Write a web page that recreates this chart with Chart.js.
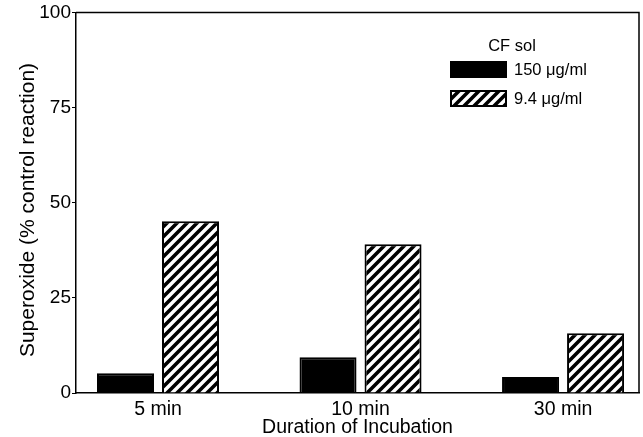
<!DOCTYPE html>
<html>
<head>
<meta charset="utf-8">
<script src="https://cdn.jsdelivr.net/npm/chart.js@4.4.1/dist/chart.umd.min.js"></script>
<style>
html,body{margin:0;padding:0;background:#fff;}
#wrap{width:643px;height:437px;position:relative;}
</style>
</head>
<body>
<div id="wrap"><canvas id="c"></canvas></div>
<script>
const categories = ["5 min", "10 min", "30 min"];
const categoryPositions = [1, 2, 3];
const seriesLabels = ["150 μg/ml", "9.4 μg/ml"];
const values150 = [5.2, 9.4, 4.2];
const values9_4 = [45.1, 39.1, 15.7];
const yTicks = [0, 25, 50, 75, 100];
const legendTitle = "CF sol";
const xTitle = "Duration of Incubation";
const yTitle = "Superoxide (% control reaction)";

const FONT = "'Liberation Sans', Arial, Helvetica, sans-serif";

function makeHatch() {
  const s = 10;
  const p = document.createElement('canvas');
  p.width = s; p.height = s;
  const g = p.getContext('2d');
  g.fillStyle = '#fff';
  g.fillRect(0, 0, s, s);
  g.strokeStyle = '#000';
  g.lineWidth = 3.6;
  g.lineCap = 'square';
  g.beginPath();
  g.moveTo(0, s); g.lineTo(s, 0);
  g.moveTo(-s/2, s/2); g.lineTo(s/2, -s/2);
  g.moveTo(s/2, s*1.5); g.lineTo(s*1.5, s/2);
  g.stroke();
  return g.createPattern(p, 'repeat');
}
const hatch = makeHatch();

const toPoints = vals => vals.map((v, i) => ({x: categoryPositions[i], y: v}));

const decorations = {
  id: 'decorations',
  afterDraw(chart) {
    const ctx = chart.ctx;
    const a = chart.chartArea;
    ctx.save();
    ctx.strokeStyle = '#000';
    ctx.lineWidth = 1.5;
    ctx.beginPath();
    ctx.moveTo(a.left, a.top);
    ctx.lineTo(a.right, a.top);
    ctx.lineTo(a.right, a.bottom);
    ctx.stroke();
    ctx.fillStyle = '#000';
    ctx.font = "21px " + FONT;
    ctx.textAlign = 'center';
    ctx.textBaseline = 'middle';
    ctx.translate(28, 210);
    ctx.rotate(-Math.PI / 2);
    ctx.fillText(yTitle, 0, 0);
    ctx.restore();

    ctx.save();
    ctx.fillStyle = '#000';
    ctx.font = "16.5px " + FONT;
    ctx.textBaseline = 'middle';
    ctx.textAlign = 'center';
    ctx.fillText(legendTitle, 512, 46);
    ctx.textAlign = 'left';
    const rows = [61, 90];
    chart.data.datasets.forEach((ds, i) => {
      const y = rows[i];
      ctx.fillStyle = ds.backgroundColor;
      ctx.fillRect(450, y, 57, 17);
      ctx.strokeStyle = '#000';
      ctx.lineWidth = 2;
      ctx.strokeRect(451, y + 1, 55, 15);
      ctx.fillStyle = '#000';
      ctx.fillText(ds.label, 514, y + 9);
    });
    ctx.restore();
  }
};

new Chart(document.getElementById('c'), {
  type: 'bar',
  data: {
    datasets: [
      {label: seriesLabels[0], data: toPoints(values150), backgroundColor: '#000', borderColor: '#000', borderWidth: 2},
      {label: seriesLabels[1], data: toPoints(values9_4), backgroundColor: hatch, borderColor: '#000', borderWidth: 2}
    ]
  },
  options: {
    responsive: true,
    maintainAspectRatio: false,
    animation: false,
    devicePixelRatio: 1,
    layout: {padding: {top: 12, right: 4, left: 0, bottom: 0}},
    categoryPercentage: 0.642,
    barPercentage: 0.877,
    plugins: {legend: {display: false}, tooltip: {enabled: false}},
    scales: {
      x: {
        type: 'linear',
        offset: false,
        bounds: 'ticks',
        min: 0.5951,
        max: 3.375,
        afterBuildTicks: s => { s.ticks = categoryPositions.map(v => ({value: v})); },
        afterFit: s => { s.height = 44; },
        grid: {display: true, drawOnChartArea: false, drawTicks: false},
        border: {display: true, color: '#000', width: 1.5},
        ticks: {
          padding: 5,
          color: '#000',
          font: {size: 19.5, family: FONT},
          callback: v => categories[categoryPositions.indexOf(v)] || ''
        },
        title: {display: true, text: xTitle, color: '#000', font: {size: 19.5, family: FONT, lineHeight: 1.0}, padding: {top: 0, bottom: 0}}
      },
      y: {
        min: 0,
        max: 100,
        afterBuildTicks: s => { s.ticks = yTicks.map(v => ({value: v})); },
        afterFit: s => { s.width = 76; },
        grid: {display: true, drawOnChartArea: false, drawTicks: true, tickLength: 4, color: '#000'},
        border: {display: true, color: '#000', width: 1.5},
        ticks: {padding: 1, color: '#000', font: {size: 19, family: FONT}}
      }
    }
  },
  plugins: [decorations]
});
</script>
</body>
</html>
